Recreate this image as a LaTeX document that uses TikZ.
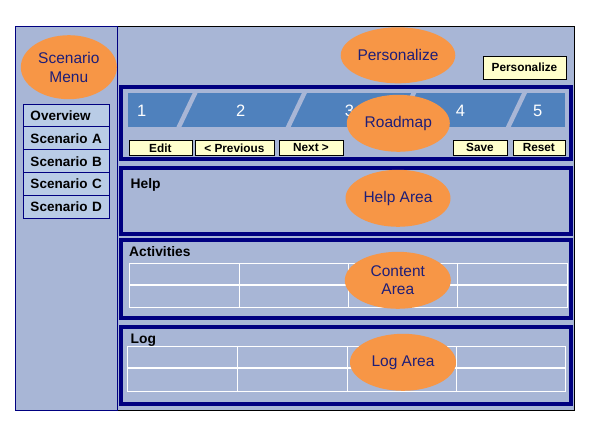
\documentclass[tikz,border=0pt]{standalone}
\usepackage{fontspec}
\setmainfont{Liberation Sans}
\usetikzlibrary{shapes.geometric,positioning}

\definecolor{panelbg}{RGB}{168,182,214}
\definecolor{menubg}{RGB}{185,204,230}
\definecolor{barblue}{RGB}{79,129,189}
\definecolor{framenavy}{RGB}{0,0,128}
\definecolor{calloutorange}{RGB}{247,150,70}
\definecolor{callouttext}{RGB}{30,30,120}
\definecolor{buttonyellow}{RGB}{255,255,204}

\begin{document}
\begin{tikzpicture}[x=1pt,y=-1pt]

        \useasboundingbox (0,0) rectangle (595,425);

        % window and side panel
        \draw[black, fill=panelbg] (15,26) rectangle (574.5,410);
        \draw[framenavy, fill=panelbg] (15,26) rectangle (117,410);

        % section boxes
        \begin{scope}[every node/.style={draw=framenavy, line width=4pt, anchor=north west,
            minimum width=449.5pt, inner sep=0pt, outer sep=0pt}]
          \node[minimum height=72.5pt] (roadmapbox)    at (121.3,87)    {};
          \node[minimum height=66pt]   (helpbox)       at (121.3,168)   {};
          \node[minimum height=78pt]   (activitiesbox) at (121.3,240.3) {};
          \node[minimum height=77pt]   (logbox)        at (121,327)     {};
        \end{scope}

        % roadmap bar with slanted gaps
        \begin{scope}
          \clip (128,93) rectangle (565,126.7);
          \fill[barblue] (128,93) rectangle (565,126.7);
          \draw[panelbg, line width=4.5pt] (197.5,88) -- (176.5,132);
          \draw[panelbg, line width=4.5pt] (306.8,88) -- (285.8,132);
          \draw[panelbg, line width=4.5pt] (416.2,88) -- (395.2,132);
          \draw[panelbg, line width=4.5pt] (526.9,88) -- (505.9,132);
        \end{scope}

        \begin{scope}[every node/.style={text=white, inner sep=0pt, font=\fontsize{16.5}{19}\selectfont}]
          \node (rm1) at (141.7,110.5) {1};
          \node (rm2) at (240.8,110.5) {2};
          \node (rm3) at (349.5,110.5) {3};
          \node (rm4) at (460.5,110.5) {4};
          \node (rm5) at (537.8,110.5) {5};
        \end{scope}

        % buttons
        \begin{scope}[every node/.style={draw=black, fill=buttonyellow, anchor=north west,
            inner sep=0pt, outer sep=0pt, font=\bfseries\fontsize{11.8}{13}\selectfont}]
          \node[minimum width=83pt,   minimum height=23pt]   (personalizebtn) at (483,56)    {Personalize};
          \node[minimum width=62.7pt, minimum height=15.7pt] (editbtn)        at (129,140)   {Edit};
          \node[minimum width=78.7pt, minimum height=15.7pt] (prevbtn)        at (195,140)   {< Previous};
          \node[minimum width=63.4pt, minimum height=15.7pt] (nextbtn)        at (279.3,140) {Next >};
          \node[minimum width=53.4pt, minimum height=15.7pt] (savebtn)        at (453.3,140) {Save};
          \node[minimum width=51.7pt, minimum height=15.7pt] (resetbtn)       at (513,140)   {Reset};
        \end{scope}

        % scenario menu
        \begin{scope}[every node/.style={draw=framenavy, fill=menubg, line width=0.8pt, anchor=north west,
            minimum height=22.9pt, text width=72pt, inner xsep=7.2pt, inner ysep=0pt, outer sep=0pt,
            align=left, font=\bfseries\fontsize{13.5}{15}\selectfont}]
          \node (overview) at (23.3,104) {Overview};
          \node[below=0pt of overview] (scena) {Scenario A};
          \node[below=0pt of scena]    (scenb) {Scenario B};
          \node[below=0pt of scenb]    (scenc) {Scenario C};
          \node[below=0pt of scenc]    (scend) {Scenario D};
        \end{scope}

        % section titles
        \begin{scope}[every node/.style={anchor=base west, inner sep=0pt, font=\bfseries\fontsize{13.8}{15}\selectfont}]
          \node (helptitle)       at (130.5,188.3) {Help};
          \node (activitiestitle) at (129,256.7)   {Activities};
          \node (logtitle)        at (130.5,343.5) {Log};
        \end{scope}

        % tables
        \draw[white] (129,263) rectangle (567,307);
        \draw[white, line width=2pt] (129,284.7) -- (567,284.7);
        \draw[white] (239,263) -- (239,307);
        \draw[white] (348,263) -- (348,307);
        \draw[white] (457,263) -- (457,307);

        \draw[white] (127.3,346) rectangle (565.3,391.3);
        \draw[white, line width=2pt] (127.3,367.7) -- (565.3,367.7);
        \draw[white] (236.7,346) -- (236.7,391.3);
        \draw[white] (346.7,346) -- (346.7,391.3);
        \draw[white] (455.7,346) -- (455.7,391.3);

        % callouts
        \begin{scope}[every node/.style={ellipse, fill=calloutorange, text=callouttext, inner sep=0pt,
            align=center, font=\fontsize{15.5}{18.7}\selectfont}]
          \node[minimum width=96pt,  minimum height=64pt] (menucallout)        at (68.8,67.2)  {Scenario\\Menu};
          \node[minimum width=104pt, minimum height=56pt] (personalizecallout) at (398,55.3)   {Personalize};
          \node[minimum width=103pt, minimum height=57pt] (roadmapcallout)     at (398.3,123.3){Roadmap};
          \node[minimum width=105pt, minimum height=57pt] (helpcallout)        at (398,198.3)  {Help Area};
          \node[minimum width=106pt, minimum height=57pt] (contentcallout)     at (397.8,280.3){Content\\Area};
          \node[minimum width=106pt, minimum height=57pt] (logcallout)         at (403,362.3)  {Log Area};
        \end{scope}

      \end{tikzpicture}
\end{document}
